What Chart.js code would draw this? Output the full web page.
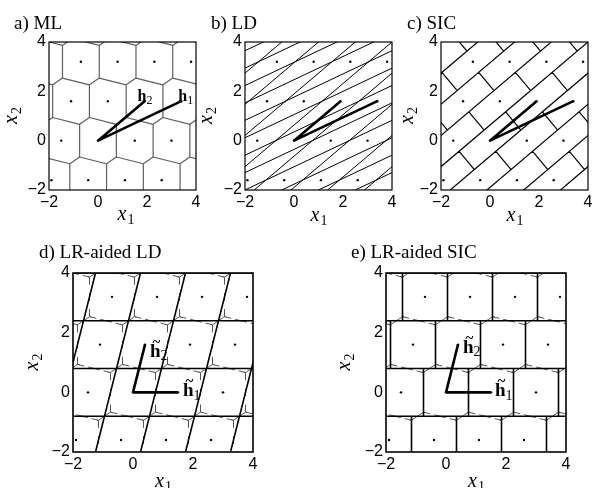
<!DOCTYPE html>
<html>
<head>
<meta charset="utf-8">
<script src="https://cdn.jsdelivr.net/npm/chart.js@4.4.1/dist/chart.umd.min.js"></script>
<style>
  body { margin: 0; background: #fff; }
  #page { position: relative; width: 592px; height: 488px; overflow: hidden; }
  #page canvas { position: absolute; left: 0; top: 0; }
</style>
</head>
<body>
<div id="page">
  <canvas id="pa" width="592" height="488"></canvas>
  <canvas id="pb" width="592" height="488"></canvas>
  <canvas id="pc" width="592" height="488"></canvas>
  <canvas id="pd" width="592" height="488"></canvas>
  <canvas id="pe" width="592" height="488"></canvas>
</div>
<script>
// data
const axisTicks = [-2, 0, 2, 4];
const h1 = [3.4, 1.6];        // channel columns
const h2 = [1.9, 1.6];
const h1Red = [1.5, 0];       // LLL-reduced columns
const h2Red = [0.4, 1.6];
const titles = ["a) ML", "b) LD", "c) SIC", "d) LR-aided LD", "e) LR-aided SIC"];

const W = 592, H = 488;
const Y_W = 40, X_H = 30;
const lo = axisTicks[0], hi = axisTicks[axisTicks.length - 1];

function comb(a, b, s, t) {
  return [s * a[0] + t * b[0], s * a[1] + t * b[1]];
}
function add(p, d, s) {
  return [p[0] + s * d[0], p[1] + s * d[1]];
}
function seg(out, p, q) {
  out.push({ x: p[0], y: p[1] }, { x: q[0], y: q[1] }, { x: 0, y: null });
}

function latticePoints(a, b) {
  const pts = [];
  for (let i = -10; i <= 10; i++) {
    for (let j = -10; j <= 10; j++) {
      const p = comb(a, b, i, j);
      if (p[0] >= lo && p[0] <= hi && p[1] >= lo && p[1] <= hi) pts.push({ x: p[0], y: p[1] });
    }
  }
  return pts;
}

// lines running along dir, through (k + 0.5) * shift
function stripLines(dir, shift) {
  const out = [];
  for (let k = -10; k <= 10; k++) {
    const c = comb(shift, dir, k + 0.5, 0);
    seg(out, add(c, dir, -12), add(c, dir, 12));
  }
  return out;
}

// short SIC boundaries inside strips that run along `along`
function sicSegments(across, along) {
  const out = [];
  const len = Math.hypot(along[0], along[1]);
  const n = [-along[1] / len, along[0] / len];
  const w = Math.abs(n[0] * across[0] + n[1] * across[1]) / 2;
  for (let i = -10; i <= 10; i++) {
    for (let j = -10; j <= 10; j++) {
      const c = comb(across, along, i, j + 0.5);
      if (c[0] < lo - 3 || c[0] > hi + 3 || c[1] < lo - 3 || c[1] > hi + 3) continue;
      seg(out, add(c, n, -w), add(c, n, w));
    }
  }
  return out;
}

function clipHalf(poly, v, d) {
  const out = [];
  for (let i = 0; i < poly.length; i++) {
    const p = poly[i], q = poly[(i + 1) % poly.length];
    const fp = p[0] * v[0] + p[1] * v[1] - d;
    const fq = q[0] * v[0] + q[1] * v[1] - d;
    if (fp <= 0) out.push(p);
    if ((fp < 0 && fq > 0) || (fp > 0 && fq < 0)) {
      const t = fp / (fp - fq);
      out.push([p[0] + t * (q[0] - p[0]), p[1] + t * (q[1] - p[1])]);
    }
  }
  return out;
}

function voronoiEdges(a, b) {
  let cell = [[-6, -6], [6, -6], [6, 6], [-6, 6]];
  for (let i = -2; i <= 2; i++) {
    for (let j = -2; j <= 2; j++) {
      if (i === 0 && j === 0) continue;
      const v = comb(a, b, i, j);
      cell = clipHalf(cell, v, (v[0] * v[0] + v[1] * v[1]) / 2);
    }
  }
  const out = [];
  for (let i = -10; i <= 10; i++) {
    for (let j = -10; j <= 10; j++) {
      const c = comb(a, b, i, j);
      if (c[0] < lo - 2 || c[0] > hi + 2 || c[1] < lo - 2 || c[1] > hi + 2) continue;
      for (let k = 0; k < cell.length; k++) {
        const p = cell[k], q = cell[(k + 1) % cell.length];
        seg(out, [c[0] + p[0], c[1] + p[1]], [c[0] + q[0], c[1] + q[1]]);
      }
    }
  }
  return out;
}

function lineSet(data, color, width, order, dash) {
  return {
    data, showLine: true, borderColor: color, borderWidth: width,
    borderDash: dash || [], pointRadius: 0, fill: false, tension: 0, order
  };
}
function dotSet(data) {
  return {
    data, showLine: false, pointRadius: 1.2, pointBackgroundColor: "#000",
    pointBorderWidth: 0, order: 1
  };
}
function vecSet(a, b) {
  const data = [];
  seg(data, [0, 0], a);
  seg(data, [0, 0], b);
  return lineSet(data, "#000", 2.6, 0);
}

function fmt(v) {
  return v < 0 ? "\u2212" + Math.abs(v) : String(v);
}

function drawVar(ctx, x, y, sub, size) {
  ctx.font = "italic " + size + "px 'Liberation Serif'";
  const wx = ctx.measureText("x").width;
  ctx.font = Math.round(size * 0.7) + "px 'Liberation Serif'";
  const ws = ctx.measureText(sub).width;
  const start = x - (wx + ws) / 2;
  ctx.font = "italic " + size + "px 'Liberation Serif'";
  ctx.fillText("x", start, y);
  ctx.font = Math.round(size * 0.7) + "px 'Liberation Serif'";
  ctx.fillText(sub, start + wx + 1, y + size * 0.22);
}

function drawVecLabel(ctx, px, py, sub, size, tilde) {
  ctx.font = "bold " + size + "px 'Liberation Serif'";
  const wh = ctx.measureText("h").width;
  ctx.fillText("h", px, py);
  if (tilde) {
    ctx.font = "bold " + Math.round(size * 0.8) + "px 'Liberation Serif'";
    ctx.textAlign = "center";
    ctx.fillText("~", px + wh / 2 + 1, py - size * 0.52);
    ctx.textAlign = "left";
  }
  ctx.font = Math.round(size * 0.75) + "px 'Liberation Serif'";
  ctx.fillText(sub, px + wh, py + size * 0.2);
}

function decor(p) {
  return {
    id: "decor",
    afterDatasetsDraw(chart) {
      const ctx = chart.ctx, a = chart.chartArea;
      const xs = chart.scales.x, ys = chart.scales.y;
      ctx.save();
      ctx.strokeStyle = "#000";
      ctx.lineWidth = p.frame;
      ctx.strokeRect(a.left, a.top, a.right - a.left, a.bottom - a.top);
      ctx.fillStyle = "#000";
      ctx.textBaseline = "alphabetic";
      ctx.textAlign = "left";
      ctx.font = "19px 'Liberation Serif'";
      ctx.fillText(p.title, p.titlePos[0], p.titlePos[1]);
      drawVar(ctx, (a.left + a.right) / 2 + p.xlab[0], p.xlab[1], "1", 20);
      ctx.save();
      ctx.translate(a.left - p.ylab, (a.top + a.bottom) / 2);
      ctx.rotate(-Math.PI / 2);
      drawVar(ctx, 0, 0, "2", 20);
      ctx.restore();
      p.labels.forEach(l => {
        const px = xs.getPixelForValue(l.at[0]) + l.dx;
        const py = ys.getPixelForValue(l.at[1]) + l.dy;
        drawVecLabel(ctx, px, py, l.sub, l.size, l.tilde);
      });
      ctx.restore();
    }
  };
}

function makeChart(id, area, datasets, p) {
  const padding = {
    left: area[0] - Y_W, right: W - area[1],
    top: area[2], bottom: H - area[3] - X_H
  };
  const tickFont = { family: "'Liberation Sans', Arial, sans-serif", size: 16 };
  const setTicks = s => { s.ticks = axisTicks.map(v => ({ value: v })); };
  return new Chart(document.getElementById(id), {
    type: "scatter",
    data: { datasets },
    options: {
      responsive: false,
      animation: false,
      events: [],
      layout: { padding, autoPadding: false },
      plugins: { legend: { display: false }, tooltip: { enabled: false } },
      scales: {
        x: {
          type: "linear", min: lo, max: hi,
          afterBuildTicks: setTicks,
          grid: { display: false, drawTicks: false },
          border: { display: false },
          ticks: { padding: 3, font: tickFont, color: "#000", callback: fmt, maxRotation: 0, autoSkip: false },
          afterFit: s => { s.height = X_H; s.paddingLeft = 0; s.paddingRight = 0; }
        },
        y: {
          type: "linear", min: lo, max: hi,
          afterBuildTicks: setTicks,
          grid: { display: false, drawTicks: false },
          border: { display: false },
          ticks: { padding: 3, font: tickFont, color: "#000", callback: fmt, autoSkip: false },
          afterFit: s => { s.width = Y_W; s.paddingTop = 0; s.paddingBottom = 0; }
        }
      }
    },
    plugins: [decor(p)]
  });
}

const pts = latticePoints(h1Red, h2Red);

// a) ML
makeChart("pa", [49, 196, 42, 190], [
  vecSet(h1, h2),
  dotSet(pts),
  lineSet(voronoiEdges(h1Red, h2Red), "#5f5f5f", 1.2, 2)
], {
  title: titles[0], titlePos: [14, 29], frame: 1.2, xlab: [3, 220], ylab: 32,
  labels: [
    { at: h2, dx: -7, dy: 0, sub: "2", size: 16, tilde: false },
    { at: h1, dx: -3, dy: 0, sub: "1", size: 16, tilde: false }
  ]
});

// b) LD
makeChart("pb", [245, 392, 42, 190], [
  vecSet(h1, h2),
  dotSet(pts),
  lineSet(stripLines(h1, h2).concat(stripLines(h2, h1)), "#000", 1, 2)
], { title: titles[1], titlePos: [211, 29], frame: 1.2, xlab: [0, 221], ylab: 33, labels: [] });

// c) SIC
makeChart("pc", [441, 588, 42, 190], [
  vecSet(h1, h2),
  dotSet(pts),
  lineSet(stripLines(h2, h1).concat(sicSegments(h1, h2)), "#000", 1.2, 2)
], { title: titles[2], titlePos: [407, 29], frame: 1.2, xlab: [0, 221], ylab: 28, labels: [] });

// d) LR-aided LD
makeChart("pd", [73, 253, 273, 452], [
  vecSet(h1Red, h2Red),
  dotSet(pts),
  lineSet(stripLines(h1Red, h2Red).concat(stripLines(h2Red, h1Red)), "#000", 1.6, 2),
  lineSet(voronoiEdges(h1Red, h2Red), "#555", 1, 3, [7, 9])
], {
  title: titles[3], titlePos: [39, 258], frame: 1.6, xlab: [0, 487], ylab: 35,
  labels: [
    { at: h2Red, dx: 5, dy: 12, sub: "2", size: 19, tilde: true },
    { at: h1Red, dx: 5, dy: 4, sub: "1", size: 19, tilde: true }
  ]
});

// e) LR-aided SIC
makeChart("pe", [386, 566, 273, 452], [
  vecSet(h1Red, h2Red),
  dotSet(pts),
  lineSet(stripLines(h1Red, h2Red).concat(sicSegments(h2Red, h1Red)), "#000", 1.6, 2),
  lineSet(voronoiEdges(h1Red, h2Red), "#555", 1, 3, [7, 9])
], {
  title: titles[4], titlePos: [351, 258], frame: 1.6, xlab: [0, 487], ylab: 36,
  labels: [
    { at: h2Red, dx: 5, dy: 8, sub: "2", size: 19, tilde: true },
    { at: h1Red, dx: 4, dy: 4, sub: "1", size: 19, tilde: true }
  ]
});
</script>
</body>
</html>
